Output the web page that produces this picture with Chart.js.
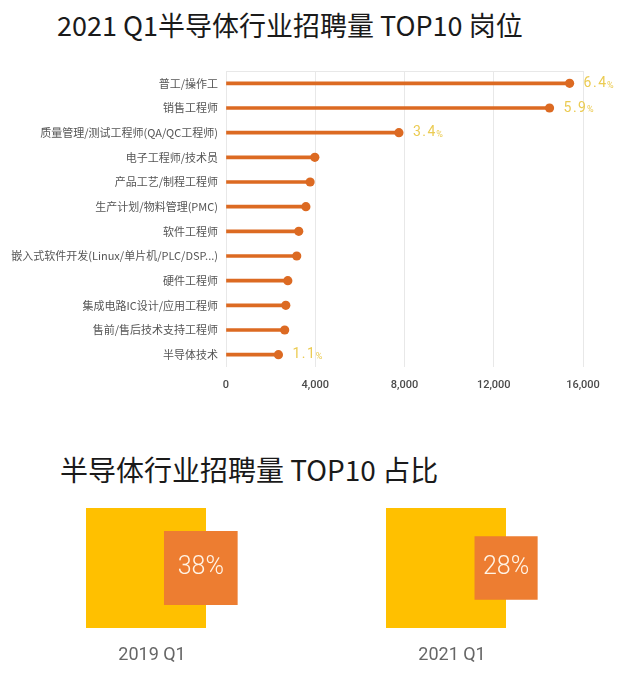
<!DOCTYPE html>
<html><head><meta charset="utf-8">
<script src="https://cdn.jsdelivr.net/npm/chart.js@4.4.1/dist/chart.umd.min.js"></script>
<style>
html,body{margin:0;padding:0;background:#fff;}
body{width:640px;height:675px;position:relative;overflow:hidden;font-family:"Noto Sans CJK SC","Noto Sans",sans-serif;}
.title{position:absolute;white-space:nowrap;color:#1a1a1a;}
#t1{left:57px;top:6px;font-size:27px;line-height:38px;}
#t2{left:60px;top:450px;font-size:28px;line-height:38px;}
#w1{position:absolute;left:0;top:0;width:640px;height:400px;}
#w2{position:absolute;left:0;top:490px;width:640px;height:185px;}
</style></head>
<body>
<div class="title" id="t1">2021 Q1半导体行业招聘量 TOP10 岗位</div>
<div class="title" id="t2">半导体行业招聘量 TOP10 占比</div>
<div id="w1"><canvas id="c1"></canvas></div>
<div id="w2"><canvas id="c2"></canvas></div>
<script>
// ---- data ----
const jobCategories = [
  '普工/操作工',
  '销售工程师',
  '质量管理/测试工程师(QA/QC工程师)',
  '电子工程师/技术员',
  '产品工艺/制程工程师',
  '生产计划/物料管理(PMC)',
  '软件工程师',
  '嵌入式软件开发(Linux/单片机/PLC/DSP...)',
  '硬件工程师',
  '集成电路IC设计/应用工程师',
  '售前/售后技术支持工程师',
  '半导体技术'
];
const jobCounts = [15400, 14500, 7750, 3980, 3770, 3580, 3260, 3170, 2770, 2680, 2630, 2350];
const jobSharePct = [6.4, 5.9, 3.4, null, null, null, null, null, null, null, null, 1.1];
const xAxisMax = 16000;
const xAxisStep = 4000;
const periodLabels = ['2019 Q1', '2021 Q1'];
const top10SharePct = [38, 28];

// ---- styles ----
const ORANGE = '#DC6A22';
const GRID = '#e8e8e8';
const YELLOW_SQ = '#FFC000';
const ORANGE_SQ = '#ED7D31';

const framePlugin = {
  id: 'frame',
  beforeDatasetsDraw(chart) {
    const {ctx, chartArea: a} = chart;
    ctx.save();
    ctx.strokeStyle = GRID; ctx.lineWidth = 1;
    ctx.beginPath(); ctx.moveTo(a.left, a.top + 0.5); ctx.lineTo(a.right, a.top + 0.5); ctx.stroke();
    ctx.restore();
  }
};

const pctLabelPlugin = {
  id: 'pctLabels',
  afterDatasetsDraw(chart) {
    const meta = chart.getDatasetMeta(1);
    const ctx = chart.ctx;
    ctx.save();
    ctx.fillStyle = '#EBCB52';
    ctx.textBaseline = 'middle';
    ctx.textAlign = 'left';
    meta.data.forEach((pt, i) => {
      const v = jobSharePct[i];
      if (v == null) return;
      let x = pt.x + 14;
      ctx.font = '14px Roboto';
      ctx.letterSpacing = '1.5px';
      const s = v.toFixed(1);
      ctx.fillText(s, x, pt.y);
      x += ctx.measureText(s).width - 0.5;
      ctx.font = '9px Roboto';
      ctx.letterSpacing = '0px';
      ctx.fillText('%', x, pt.y + 2);
    });
    ctx.restore();
  }
};

new Chart(document.getElementById('c1'), {
  type: 'bar',
  data: {
    labels: jobCategories,
    datasets: [
      { type: 'bar', indexAxis: 'y', data: jobCounts, backgroundColor: ORANGE, barThickness: 3, order: 2 },
      { type: 'line', indexAxis: 'y', data: jobCounts, showLine: false, pointRadius: 4.6,
        pointBackgroundColor: ORANGE, pointBorderWidth: 0, pointBorderColor: ORANGE, order: 1 }
    ]
  },
  options: {
    indexAxis: 'y',
    responsive: true, maintainAspectRatio: false, animation: false,
    layout: { padding: { top: 71, right: 57, bottom: 8, left: 0 } },
    plugins: { legend: { display: false }, tooltip: { enabled: false } },
    scales: {
      x: {
        type: 'linear', min: 0, max: xAxisMax,
        grid: { color: GRID, drawTicks: false, lineWidth: 1 },
        border: { display: false },
        afterFit: s => { s.height = 25; },
        ticks: { stepSize: xAxisStep, padding: 12, color: '#4a4a4a',
          font: { family: 'Roboto', size: 11, weight: '500' },
          callback: v => Number(v).toLocaleString('en-US') }
      },
      y: {
        type: 'category',
        grid: { display: false, drawTicks: false },
        border: { display: false },
        afterFit: s => { s.width = 226; },
        ticks: { padding: 8, color: '#555', font: { family: '"Noto Sans CJK SC"', size: 11 } }
      }
    }
  },
  plugins: [framePlugin, pctLabelPlugin]
});

// ---- bottom: share squares (yellow = 100% of recruiting, orange area = TOP10 share) ----
const GAP = 2.5;        // horizontal spacing between groups, in square units
const OVERHANG = 0.265; // orange square sticks out past the yellow one
const orangeGeom = top10SharePct.map((p, i) => {
  const s = Math.sqrt(p / 100);
  const right = i * GAP + 1 + OVERHANG;
  return { s, right, cx: right - s / 2, cy: 0.5 };
});

const yellowSets = periodLabels.map((_, i) => ({
  type: 'line', data: [{ x: i * GAP, y: 1 }, { x: i * GAP + 1, y: 1 }],
  fill: { value: 0 }, backgroundColor: YELLOW_SQ, borderColor: 'transparent', borderWidth: 0,
  pointRadius: 0, tension: 0, order: 2
}));
const orangeSets = orangeGeom.map(g => ({
  type: 'line', data: [{ x: g.right - g.s, y: g.cy + g.s / 2 }, { x: g.right, y: g.cy + g.s / 2 }],
  fill: { value: g.cy - g.s / 2 }, backgroundColor: ORANGE_SQ, borderColor: 'transparent', borderWidth: 0,
  pointRadius: 0, tension: 0, order: 1
}));

const squareLabelPlugin = {
  id: 'squareLabels',
  afterDatasetsDraw(chart) {
    const {ctx, scales: {x, y}} = chart;
    ctx.save();
    ctx.fillStyle = '#FFF4E6';
    ctx.font = '300 25px Roboto';
    ctx.textAlign = 'center'; ctx.textBaseline = 'middle';
    orangeGeom.forEach((g, i) => {
      ctx.fillText(top10SharePct[i] + '%', x.getPixelForValue(g.cx), y.getPixelForValue(g.cy));
    });
    ctx.restore();
  }
};

new Chart(document.getElementById('c2'), {
  type: 'line',
  data: { datasets: [...yellowSets, ...orangeSets] },
  options: {
    responsive: true, maintainAspectRatio: false, animation: false,
    layout: { padding: { top: 8, bottom: 8, left: 0, right: 0 } },
    plugins: { legend: { display: false }, tooltip: { enabled: false } },
    scales: {
      x: {
        type: 'linear', min: -0.7167, max: 4.6167,
        grid: { display: false, drawTicks: false }, border: { display: false },
        afterFit: s => { s.height = 29; },
        afterBuildTicks: s => { s.ticks = periodLabels.map((_, i) => ({ value: i * GAP + 0.55 })); },
        ticks: { autoSkip: false, maxRotation: 0, padding: 7, color: '#666',
          font: { family: 'Roboto', size: 18 },
          callback: (v, idx) => periodLabels[idx] }
      },
      y: { type: 'linear', display: false, min: -0.0833, max: 1.0833 }
    }
  },
  plugins: [squareLabelPlugin]
});
</script>
</body></html>
